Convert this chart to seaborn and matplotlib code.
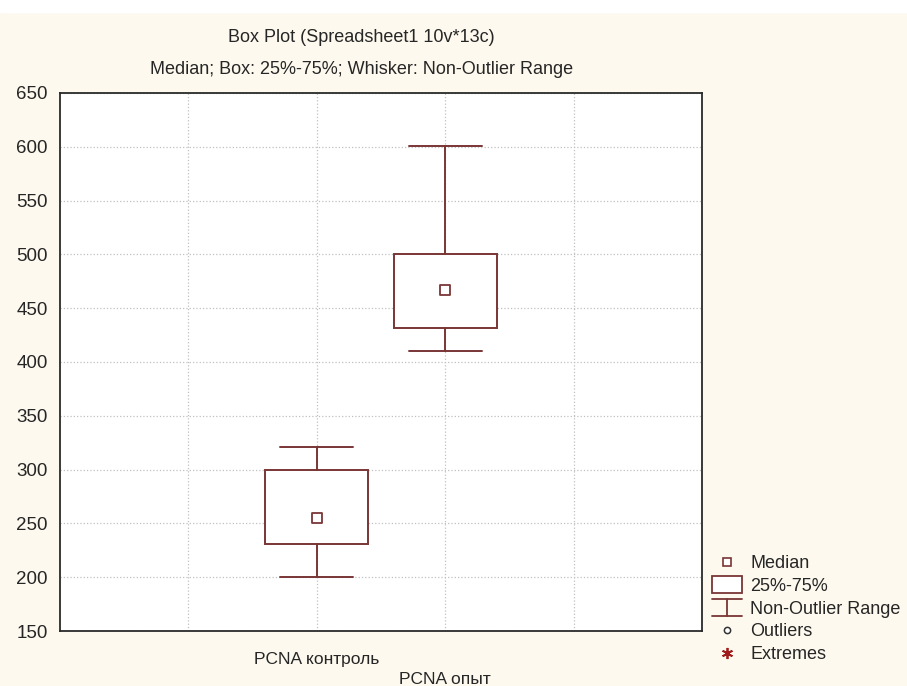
import matplotlib
matplotlib.use("Agg")
import matplotlib.pyplot as plt
import seaborn as sns
from matplotlib.patches import Rectangle
from matplotlib.lines import Line2D
from matplotlib.legend_handler import HandlerBase

# Summary statistics per group
groups = ["PCNA контроль", "PCNA опыт"]
medians = [255, 467]
q1 = [231, 432]
q3 = [300, 500]
whisker_low = [200, 410]
whisker_high = [321, 601]
y_ticks = [150, 200, 250, 300, 350, 400, 450, 500, 550, 600, 650]

BOX = "#7a3535"
TEXT = "#262626"
BG = "#fdf9ee"

sns.set_theme(style="white")
plt.rcParams["font.family"] = ["Liberation Sans", "DejaVu Sans"]

fig = plt.figure(figsize=(9.07, 6.86), dpi=100, facecolor=BG)
fig.patches.append(Rectangle((0, 1 - 12 / 686), 1, 12 / 686,
                             transform=fig.transFigure, color="white", zorder=0))
ax = fig.add_axes([60 / 907, 1 - 631 / 686, 642 / 907, 538 / 686])
ax.set_facecolor("white")

positions = list(range(len(groups)))
stats = [dict(label=g, med=m, q1=a, q3=b, whislo=lo, whishi=hi, fliers=[])
         for g, m, a, b, lo, hi in zip(groups, medians, q1, q3, whisker_low, whisker_high)]
ax.bxp(stats, positions=positions, widths=0.8, capwidths=0.57, showfliers=False,
       patch_artist=True, manage_ticks=False,
       boxprops=dict(facecolor="white", edgecolor=BOX, linewidth=1.4),
       whiskerprops=dict(color=BOX, linewidth=1.4),
       capprops=dict(color=BOX, linewidth=1.4),
       medianprops=dict(visible=False))
sns.scatterplot(x=positions, y=medians, marker="s", s=42, color="white",
                edgecolor=BOX, linewidth=1.3, ax=ax, zorder=5, legend=False)

ax.set_xlim(-2, 3)
ax.set_ylim(150, 650)
ax.set_yticks(y_ticks)
ax.set_yticklabels([str(v) for v in y_ticks], fontsize=13.5, color=TEXT)
ax.set_xticks([-1, 0, 1, 2])
ax.set_xticklabels(["", groups[0], "\n" + groups[1], ""], fontsize=12.5, color=TEXT)
ax.get_xticklabels()[2].set_linespacing(1.45)
ax.tick_params(axis="both", direction="in", length=4, width=1, color="#333333")
ax.tick_params(axis="x", pad=15)
ax.tick_params(axis="y", pad=9)
ax.grid(True, linestyle=":", color="#c0c0c0", linewidth=0.9)
for s in ax.spines.values():
    s.set_color("#2a2a2a")
    s.set_linewidth(1.3)

fig.text(361 / 907, 1 - 37 / 686, "Box Plot (Spreadsheet1 10v*13c)",
         ha="center", va="center", fontsize=13, color=TEXT)
fig.text(362 / 907, 1 - 70 / 686, "Median; Box: 25%-75%; Whisker: Non-Outlier Range",
         ha="center", va="center", fontsize=13, color=TEXT)


class BoxHandler(HandlerBase):
    def create_artists(self, legend, orig_handle, xdescent, ydescent,
                       width, height, fontsize, trans):
        h = height * 1.35
        y0 = -ydescent + (height - h) / 2
        r = Rectangle((-xdescent, y0), width, h, facecolor="white",
                      edgecolor=BOX, linewidth=1.3, transform=trans)
        return [r]


class WhiskerHandler(HandlerBase):
    def create_artists(self, legend, orig_handle, xdescent, ydescent,
                       width, height, fontsize, trans):
        h = height * 1.35
        y0 = -ydescent + (height - h) / 2
        x0 = -xdescent
        parts = [
            Line2D([x0, x0 + width], [y0 + h, y0 + h]),
            Line2D([x0 + width / 2] * 2, [y0, y0 + h]),
            Line2D([x0, x0 + width], [y0, y0]),
        ]
        for p in parts:
            p.set_color(BOX)
            p.set_linewidth(1.3)
            p.set_transform(trans)
        return parts


median_h = Line2D([], [], marker="s", ls="", mfc="white", mec=BOX, ms=6, mew=1.2)
box_h = Rectangle((0, 0), 1, 1)
whisk_h = Line2D([], [])
outl_h = Line2D([], [], marker="o", ls="", mfc="white", mec="#333333", ms=4.5, mew=1.1)
extr_h = Line2D([], [], marker=(6, 2, 0), ls="", color="#a01c1c", ms=8, mew=1.3)

leg = fig.legend([median_h, box_h, whisk_h, outl_h, extr_h],
                 ["Median", "25%-75%", "Non-Outlier Range", "Outliers", "Extremes"],
                 handler_map={box_h: BoxHandler(), whisk_h: WhiskerHandler()},
                 loc="upper left", bbox_to_anchor=(712 / 907, 1 - 555 / 686),
                 frameon=False, fontsize=13, borderpad=0, borderaxespad=0,
                 handlelength=1.67, handletextpad=0.45, labelspacing=0.32)
for t in leg.get_texts():
    t.set_color(TEXT)

fig.savefig("out.png", dpi=100, facecolor=BG)
